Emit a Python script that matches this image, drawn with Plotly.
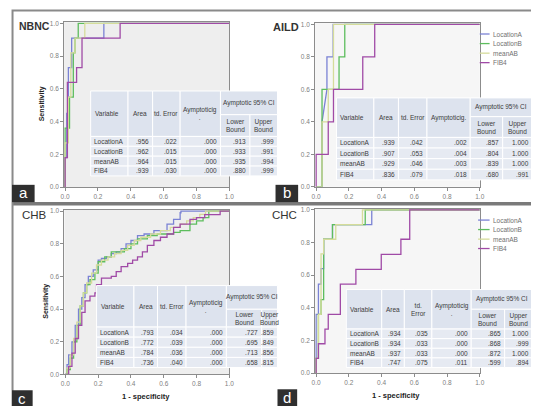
import plotly.graph_objects as go

W, H = 539, 406
FONT = "Liberation Sans"

# ---------------- data ----------------
SERIES = ["LocationA", "LocationB", "meanAB", "FIB4"]
TICK_VALS = [0.0, 0.2, 0.4, 0.6, 0.8, 1.0]
TICK_TEXT = ["0.0", "0.2", "0.4", "0.6", "0.8", "1.0"]
PANEL_TITLES = ["NBNC", "AILD", "CHB", "CHC"]
PANEL_LETTERS = ["a", "b", "c", "d"]

# (a) NBNC  - step points (1 - specificity, sensitivity)
NBNC_FPR = {
    "LocationA": [0, 0, 0.01, 0.02, 0.04, 0.236, 1],
    "LocationB": [0, 0, 0.027, 0.05, 0.06, 0.08, 1],
    "meanAB":    [0, 0, 0.02, 0.035, 0.06, 0.12, 1],
    "FIB4":      [0, 0, 0.014, 0.07, 0.103, 0.335, 1],
}
NBNC_TPR = {
    "LocationA": [0, 0.18, 0.45, 0.73, 0.91, 1, 1],
    "LocationB": [0, 0.36, 0.55, 0.82, 0.91, 1, 1],
    "meanAB":    [0, 0.27, 0.55, 0.82, 0.91, 1, 1],
    "FIB4":      [0, 0.18, 0.64, 0.73, 0.91, 1, 1],
}

# (b) AILD - vertices
AILD_FPR = {
    "LocationA": [0, 0.036, 0.036, 0.066, 0.066, 0.104, 0.104, 1],
    "LocationB": [0, 0.036, 0.036, 0.14, 0.14, 0.175, 0.175, 1],
    "meanAB":    [0, 0.036, 0.036, 0.074, 0.074, 0.106, 0.106, 1],
    "FIB4":      [0, 0, 0.074, 0.074, 0.106, 0.106, 0.285, 0.285, 0.358, 0.358, 1],
}
AILD_TPR = {
    "LocationA": [0, 0, 0.4, 0.6, 0.8, 0.8, 1, 1],
    "LocationB": [0, 0, 0.6, 0.6, 0.8, 0.8, 1, 1],
    "meanAB":    [0, 0, 0.4, 0.4, 0.6, 0.6, 1, 1],
    "FIB4":      [0, 0.2, 0.2, 0.4, 0.4, 0.6, 0.6, 0.8, 0.8, 1, 1],
}

# (c) CHB - step points
CHB_FPR = {
    "LocationA": [0, 0.01, 0.02, 0.04, 0.06, 0.08, 0.10, 0.12, 0.14, 0.17, 0.20, 0.22, 0.25, 0.28,
                  0.31, 0.34, 0.37, 0.40, 0.44, 0.48, 0.54, 0.58, 0.62, 0.66, 0.70, 0.705, 1.0],
    "LocationB": [0, 0.01, 0.03, 0.05, 0.07, 0.09, 0.11, 0.13, 0.15, 0.18, 0.20, 0.24, 0.28, 0.32,
                  0.36, 0.40, 0.44, 0.50, 0.56, 0.62, 0.66, 0.70, 0.76, 0.80, 0.84, 0.875, 1.0],
    "meanAB":    [0, 0.01, 0.03, 0.05, 0.07, 0.09, 0.11, 0.13, 0.16, 0.19, 0.22, 0.26, 0.30, 0.34,
                  0.38, 0.42, 0.46, 0.52, 0.58, 0.64, 0.70, 0.74, 0.78, 0.82, 0.855, 1.0],
    "FIB4":      [0, 0.02, 0.04, 0.06, 0.08, 0.10, 0.12, 0.15, 0.18, 0.19, 0.22, 0.28, 0.31, 0.34,
                  0.38, 0.41, 0.44, 0.47, 0.50, 0.54, 0.58, 0.62, 0.66, 0.70, 0.76, 0.80, 0.85, 0.944, 1.0],
}
CHB_TPR = {
    "LocationA": [0, 0.06, 0.12, 0.20, 0.30, 0.40, 0.47, 0.55, 0.60, 0.64, 0.70, 0.71, 0.72, 0.74,
                  0.75, 0.77, 0.80, 0.82, 0.85, 0.86, 0.88, 0.88, 0.92, 0.95, 0.99, 1.0, 1.0],
    "LocationB": [0, 0.03, 0.10, 0.20, 0.30, 0.42, 0.50, 0.55, 0.58, 0.62, 0.69, 0.72, 0.75, 0.75,
                  0.77, 0.80, 0.83, 0.85, 0.86, 0.86, 0.87, 0.88, 0.92, 0.94, 0.96, 1.0, 1.0],
    "meanAB":    [0, 0.04, 0.12, 0.22, 0.32, 0.42, 0.50, 0.56, 0.62, 0.67, 0.70, 0.72, 0.74, 0.76,
                  0.79, 0.82, 0.84, 0.86, 0.88, 0.90, 0.92, 0.94, 0.96, 0.98, 1.0, 1.0],
    "FIB4":      [0, 0.05, 0.13, 0.22, 0.30, 0.38, 0.45, 0.48, 0.50, 0.55, 0.59, 0.60, 0.63, 0.66,
                  0.68, 0.70, 0.72, 0.75, 0.79, 0.82, 0.84, 0.86, 0.90, 0.92, 0.95, 0.96, 0.978, 1.0, 1.0],
}

# (d) CHC - step points
CHC_FPR = {
    "LocationA": [0, 0, 0.014, 0.03, 0.046, 0.10, 0.34, 1],
    "LocationB": [0, 0, 0.014, 0.03, 0.046, 0.10, 0.30, 1],
    "meanAB":    [0, 0, 0.014, 0.03, 0.046, 0.12, 0.283, 1],
    "FIB4":      [0, 0, 0.014, 0.054, 0.074, 0.148, 0.243, 0.398, 0.518, 0.572, 1],
}
CHC_TPR = {
    "LocationA": [0, 0.36, 0.545, 0.64, 0.82, 0.91, 1, 1],
    "LocationB": [0, 0.09, 0.36, 0.45, 0.82, 0.91, 1, 1],
    "meanAB":    [0, 0.09, 0.36, 0.73, 0.82, 0.91, 1, 1],
    "FIB4":      [0, 0.09, 0.18, 0.27, 0.36, 0.545, 0.636, 0.727, 0.82, 1, 1],
}

# tables
NBNC_TABLE = [["LocationA", ".956", ".022", ".000", ".913", ".999"],
              ["LocationB", ".962", ".015", ".000", ".933", ".991"],
              ["meanAB", ".964", ".015", ".000", ".935", ".994"],
              ["FIB4", ".939", ".030", ".000", ".880", ".999"]]
AILD_TABLE = [["LocationA", ".939", ".042", ".002", ".857", "1.000"],
              ["LocationB", ".907", ".053", ".004", ".804", "1.000"],
              ["meanAB", ".929", ".046", ".003", ".839", "1.000"],
              ["FIB4", ".836", ".079", ".018", ".680", ".991"]]
CHB_TABLE = [["LocationA", ".793", ".034", ".000", ".727", ".859"],
             ["LocationB", ".772", ".039", ".000", ".695", ".849"],
             ["meanAB", ".784", ".036", ".000", ".713", ".856"],
             ["FIB4", ".736", ".040", ".000", ".658", ".815"]]
CHC_TABLE = [["LocationA", ".934", ".035", ".000", ".865", "1.000"],
             ["LocationB", ".934", ".033", ".000", ".868", ".999"],
             ["meanAB", ".937", ".033", ".000", ".872", "1.000"],
             ["FIB4", ".747", ".075", ".011", ".599", ".894"]]

HEAD_A = ["Variable", "Area", "td. Error", "Aymptoticig<br>.", "Aymptotic 95% CI", "Lower<br>Bound", "Upper<br>Bound"]
HEAD_B = ["Variable", "Area", "td. Error", "Aymptoticig.", "Aymptotic 95% CI", "Lower<br>Bound", "Upper<br>Bound"]
HEAD_D = ["Variable", "Area", "td.<br>Error", "Aymptoticig<br>.", "Aymptotic 95% CI", "Lower<br>Bound", "Upper<br>Bound"]

# ---------------- styling / layout ----------------
COLORS = ["#7a82d4", "#5dbd5d", "#d5dc9a", "#a04aa6"]
PANEL_BOX = [(53, 12.3, 221, 179.3), (308.3, 13.3, 475.7, 179),
             (53.3, 202.3, 221, 369), (308.3, 201, 475.7, 367.7)]
PANEL_BG = ["#eeeeee", "#f6f6f6", "#eeeeee", "#f6f6f6"]
LINE_SHAPE = ["hv", "linear", "hv", "hv"]
FPRS = [NBNC_FPR, AILD_FPR, CHB_FPR, CHC_FPR]
TPRS = [NBNC_TPR, AILD_TPR, CHB_TPR, CHC_TPR]
TABLES = [NBNC_TABLE, AILD_TABLE, CHB_TABLE, CHC_TABLE]
HEADS = [HEAD_A, HEAD_B, HEAD_A, HEAD_D]
TABLE_GEOM = [
    ([80, 118, 143, 171, 212, 242, 270], 82, 106, 128, 10.0),
    ([330, 368, 393, 422, 466, 499, 529], 89, 108, 129, 10.75),
    ([86, 124, 148, 177, 218, 254, 270], 279, 303, 321, 10.25),
    ([340, 376, 399, 427, 467, 501, 529], 283, 303, 323, 9.75),
]


def fx(p):
    return p / W


def fy(p):
    return 1 - p / H


shapes = []
annots = []


def rect(x0, y0, x1, y1, fill, line_color="white", lw=1, layer="above"):
    shapes.append(dict(type="rect", xref="paper", yref="paper",
                       x0=fx(x0), x1=fx(x1), y0=fy(y1), y1=fy(y0),
                       fillcolor=fill, line=dict(color=line_color, width=lw), layer=layer))


def text(x, y, s, anchor="center", size=6.5, color="#3c3c3c", bold=False, angle=0, family=FONT, pad=1):
    if bold:
        s = "<b>" + s + "</b>"
    annots.append(dict(x=fx(x), y=fy(y), xref="paper", yref="paper", text=s, showarrow=False,
                       xanchor=anchor, yanchor="middle", textangle=angle, borderpad=pad,
                       font=dict(size=size, color=color, family=family)))


fig = go.Figure()

for k in range(4):
    sfx = "" if k == 0 else str(k + 1)
    x0, y0, x1, y1 = PANEL_BOX[k]
    rect(x0, y0, x1, y1, PANEL_BG[k], line_color=PANEL_BG[k], lw=0, layer="below")
    for i, s in enumerate(SERIES):
        fig.add_trace(go.Scatter(
            x=FPRS[k][s], y=TPRS[k][s], mode="lines", name=s, showlegend=False,
            line=dict(color=COLORS[i], width=1.3, shape=LINE_SHAPE[k]),
            xaxis="x" + sfx, yaxis="y" + sfx, hoverinfo="skip"))
    ax = dict(range=[-0.006, 1.0], tickvals=TICK_VALS, ticktext=TICK_TEXT,
              showline=True, linecolor="#8c8c8c", linewidth=1, mirror=True,
              ticks="outside", ticklen=3, tickcolor="#8c8c8c", showgrid=False, zeroline=False,
              tickfont=dict(size=6.5, color="#808080", family=FONT),
              domain=[fx(x0), fx(x1)], anchor="y" + sfx, fixedrange=True)
    ay = dict(range=[0, 1.008], tickvals=TICK_VALS, ticktext=TICK_TEXT,
              showline=True, linecolor="#8c8c8c", linewidth=1, mirror=True,
              ticks="outside", ticklen=3, tickcolor="#8c8c8c", showgrid=False, zeroline=False,
              tickfont=dict(size=6.5, color="#808080", family=FONT),
              domain=[fy(y1), fy(y0)], anchor="x" + sfx, fixedrange=True)
    fig.update_layout(**{"xaxis" + sfx: ax, "yaxis" + sfx: ay})

    # table
    cols, top, split, hbot, rowh = TABLE_GEOM[k]
    head = HEADS[k]
    fh, fd = "#dde3ee", "#e6eaf2"
    for j in range(4):
        rect(cols[j], top, cols[j + 1], hbot, fh)
    rect(cols[4], top, cols[6], split, fh)
    rect(cols[4], split, cols[5], hbot, fh)
    rect(cols[5], split, cols[6], hbot, fh)
    ym = (top + hbot) / 2
    text(cols[0] + 2, ym, head[0], "left")
    for j in range(1, 4):
        text((cols[j] + cols[j + 1]) / 2, ym, head[j])
    text((cols[4] + cols[6]) / 2, (top + split) / 2, head[4])
    text((cols[4] + cols[5]) / 2, (split + hbot) / 2, head[5])
    text((cols[5] + cols[6]) / 2, (split + hbot) / 2, head[6])
    for r, row in enumerate(TABLES[k]):
        ry0 = hbot + r * rowh
        ry1 = ry0 + rowh
        for j in range(6):
            rect(cols[j], ry0, cols[j + 1], ry1, fd)
        text(cols[0] + 1.5, (ry0 + ry1) / 2, row[0], "left")
        for j in range(1, 6):
            text(cols[j + 1] - 1.5, (ry0 + ry1) / 2, row[j], "right")

# legends for panels b and d
for (lx0, lx1, tx, ys) in [(475.7, 485.7, 487.3, [24.3, 34, 43.7, 53.3]),
                           (474, 485.7, 487.3, [212.7, 222.3, 232, 241.5])]:
    for i, s in enumerate(SERIES):
        shapes.append(dict(type="line", xref="paper", yref="paper",
                           x0=fx(lx0), x1=fx(lx1), y0=fy(ys[i]), y1=fy(ys[i]),
                           line=dict(color=COLORS[i], width=1.3), layer="above"))
        text(tx, ys[i], s, "left", size=6.5, color="#707070")

# panel titles
text(6, 16, PANEL_TITLES[0], "left", size=10.5, color="#333333", bold=True, pad=0)
text(264, 17, PANEL_TITLES[1], "left", size=11, color="#333333", bold=True, pad=0)
text(9, 208, PANEL_TITLES[2], "left", size=11.5, color="#333333", pad=0)
text(263, 208, PANEL_TITLES[3], "left", size=11.5, color="#333333", pad=0)

# axis titles
text(30, 95, "Sensitivity", size=7, color="#222222", bold=True, angle=-90)
text(35, 295, "Sensitivity", size=7, color="#222222", bold=True, angle=-90)
text(136, 391, "1 - specificity", size=7.5, color="#222222", bold=True)
text(391, 390, "1 - specificity", size=7.5, color="#222222", bold=True)

# separator and border
rect(0, 194.5, W, 198, "#7a7a7a", line_color="#7a7a7a", lw=0)
shapes.append(dict(type="rect", xref="paper", yref="paper", x0=0.001, x1=0.999, y0=0.0015, y1=0.9985,
                   line=dict(color="#8a8a8a", width=2), fillcolor="rgba(0,0,0,0)", layer="above"))

# letter boxes
for (bx0, by0, bx1, by1), letter in zip([(0, 177, 23, 194.5), (268, 177, 291, 194.5),
                                          (0, 385, 21, 404), (270, 384, 290, 403)], PANEL_LETTERS):
    rect(bx0, by0, bx1, by1, "#2f2f2f", line_color="#2f2f2f", lw=0)
    text((bx0 + bx1) / 2, (by0 + by1) / 2 - 1, letter, size=15, color="white", pad=0)

fig.update_layout(width=W, height=H, autosize=False, margin=dict(l=0, r=0, t=0, b=0),
                  paper_bgcolor="white", plot_bgcolor="rgba(0,0,0,0)",
                  shapes=shapes, annotations=annots, showlegend=False)

fig.write_html("out.html")
